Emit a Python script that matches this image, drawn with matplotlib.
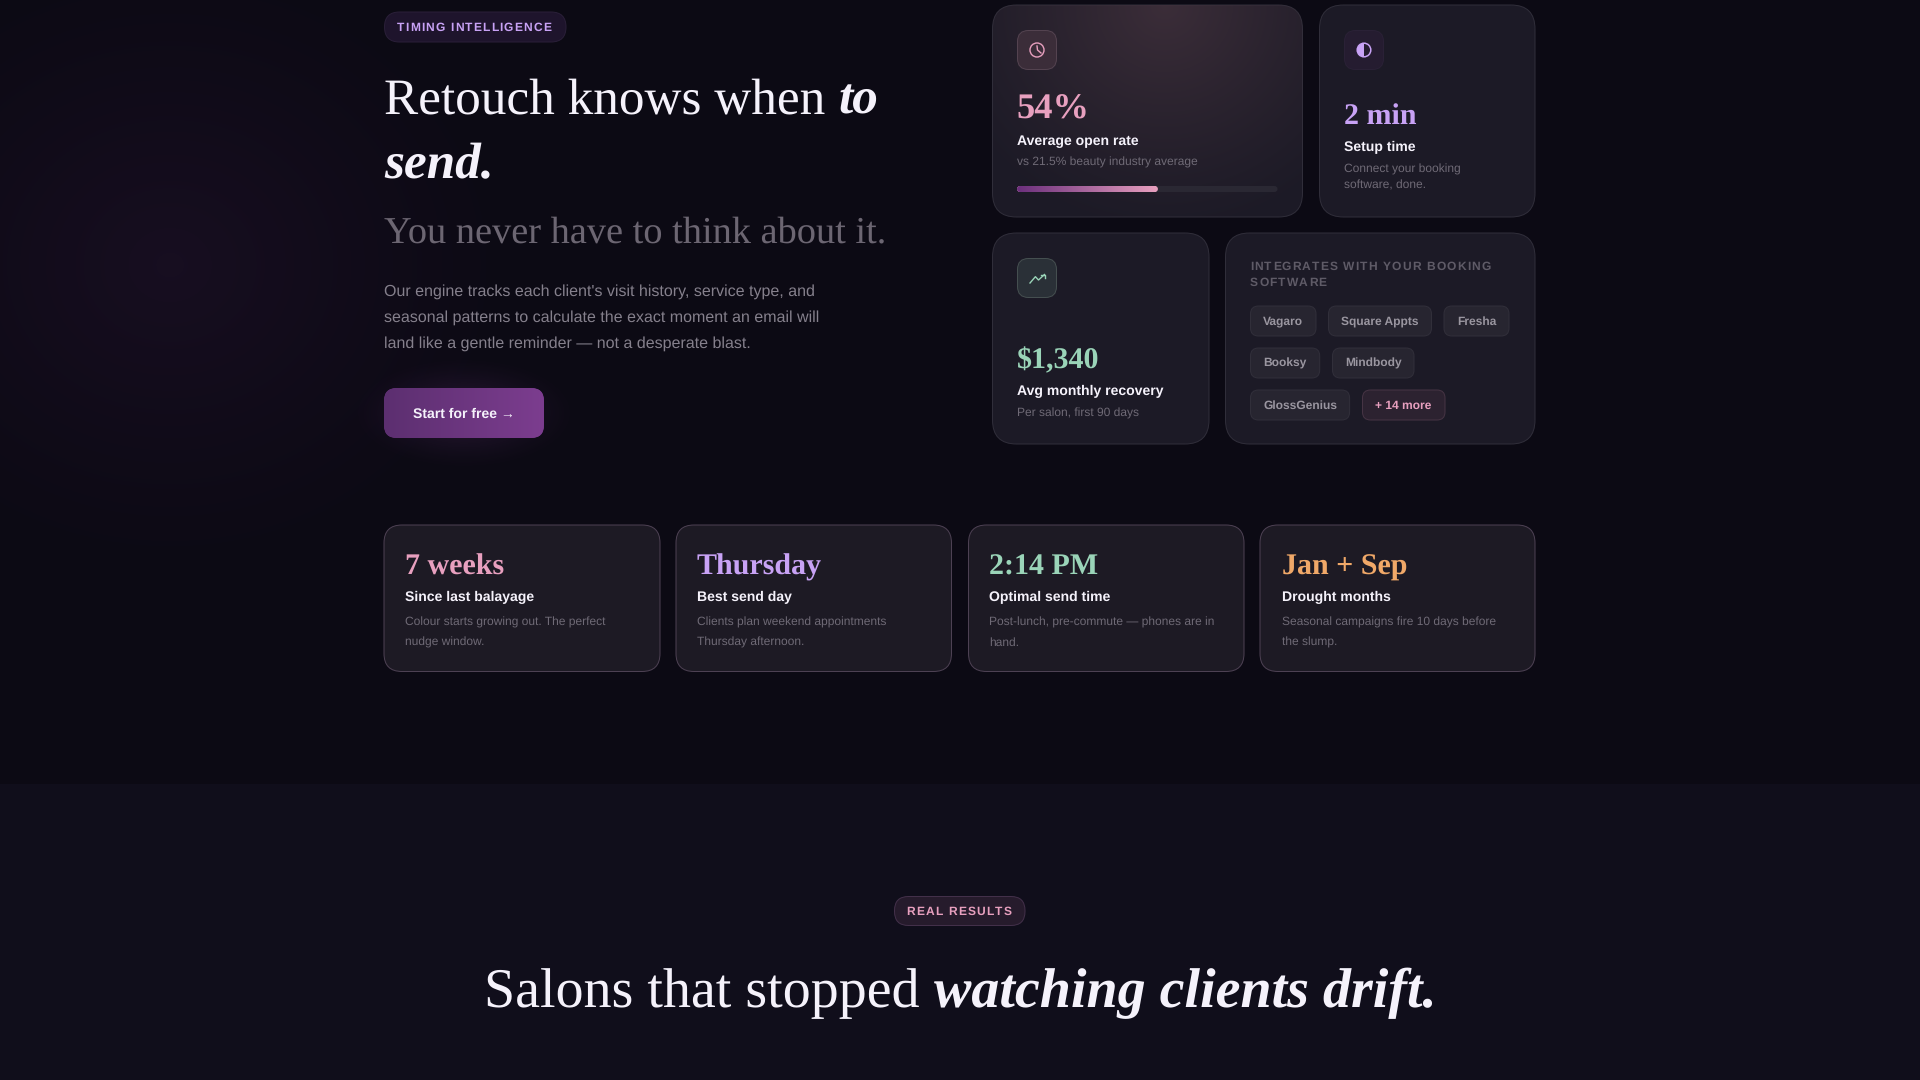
import numpy as np
import matplotlib
matplotlib.use("Agg")
import matplotlib.pyplot as plt
from matplotlib.colors import to_rgb
from matplotlib.font_manager import FontProperties, findfont, get_font
from matplotlib.ft2font import LoadFlags
from matplotlib.patches import Circle, FancyBboxPatch, Wedge

plt.rcParams["text.hinting"] = "no_hinting"

SANS = "Liberation Sans"
SERIF = "Liberation Serif"

PINK = "#e8a0bf"
PURPLE = "#c8a2f5"
GREEN = "#9ad4b8"
ORANGE = "#f0a868"
WHITE = "#f5f2fb"
MUTED = "#6f6a76"

# content
open_rate = 54
open_rate_text = "54%"
integrations = ["Vagaro", "Square Appts", "Fresha", "Booksy", "Mindbody", "GlossGenius"]
more_label = "+ 14 more"
para_lines = [
    "Our engine tracks each client's visit history, service type, and",
    "seasonal patterns to calculate the exact moment an email will",
    "land like a gentle reminder \u2014 not a desperate blast.",
]
strip_values = ["7 weeks", "Thursday", "2:14 PM", "Jan + Sep"]
strip_labels = ["Since last balayage", "Best send day", "Optimal send time", "Drought months"]
strip_desc = [
    ["Colour starts growing out. The perfect", "nudge window."],
    ["Clients plan weekend appointments", "Thursday afternoon."],
    ["Post-lunch, pre-commute \u2014 phones are in", "hand."],
    ["Seasonal campaigns fire 10 days before", "the slump."],
]
strip_colors = [PINK, PURPLE, GREEN, ORANGE]

fig = plt.figure(figsize=(19.2, 10.8), dpi=100, facecolor="#0c0a14")
ax = fig.add_axes([0, 0, 1, 1])
ax.set_xlim(0, 1920)
ax.set_ylim(1080, 0)
ax.axis("off")


def txt(x, y, s, px, color, bold=False, italic=False, family=SANS, ha="left"):
    return ax.text(x, y, s, fontsize=px * 0.72, color=color, family=family, ha=ha, va="baseline",
                   fontweight="bold" if bold else "normal",
                   fontstyle="italic" if italic else "normal", zorder=6)


def tracked(x, y, s, px, color, spacing, bold=True, center=False):
    # letter spaced text, one glyph at a time
    prop = FontProperties(family=SANS, weight="bold" if bold else "normal")
    font = get_font(findfont(prop))
    font.set_size(px * 0.72, 100)
    adv = []
    for c in s:
        g = font.load_char(ord(c), flags=LoadFlags.NO_HINTING)
        adv.append(g.linearHoriAdvance / 65536 + spacing)
    if center:
        x = x - (sum(adv) - spacing) / 2
    for c, a in zip(s, adv):
        if c != " ":
            txt(x, y, c, px, color, bold=bold)
        x += a


def box(x0, y0, x1, y1, r, fc, ec="none", lw=1.0, z=2):
    p = FancyBboxPatch((x0, y0), x1 - x0, y1 - y0, boxstyle=f"round,pad=0,rounding_size={r}",
                       fc=fc, ec=ec, lw=lw * 0.72, zorder=z)
    ax.add_patch(p)
    return p


def glow(cx, cy, rx, ry, color, alpha, extent, clip=None, z=1, power=2.0):
    x0, x1, y0, y1 = extent
    w, h = int(x1 - x0), int(y1 - y0)
    xx, yy = np.meshgrid(np.linspace(x0, x1, w), np.linspace(y0, y1, h))
    d = np.sqrt(((xx - cx) / rx) ** 2 + ((yy - cy) / ry) ** 2)
    a = np.clip(1 - d, 0, 1) ** power * alpha
    img = np.zeros((h, w, 4))
    img[..., :3] = to_rgb(color)
    img[..., 3] = a
    im = ax.imshow(img, extent=(x0, x1, y1, y0), aspect="auto", zorder=z, interpolation="bilinear")
    if clip is not None:
        im.set_clip_path(clip)
    return im


def hgrad(x0, y0, x1, y1, c0, c1, clip, z=3):
    t = np.linspace(0, 1, 256)[None, :, None]
    img = (1 - t) * np.array(to_rgb(c0)) + t * np.array(to_rgb(c1))
    im = ax.imshow(img, extent=(x0, x1, y1, y0), aspect="auto", zorder=z)
    im.set_clip_path(clip)


# page background, lower section is a little lighter
ax.add_patch(plt.Rectangle((0, 784), 1920, 296, fc="#100e1b", ec="none", zorder=0))
glow(170, 265, 360, 320, "#33183f", 0.3, (0, 560, 0, 620), power=1.2)

# left column
box(384.5, 12, 566, 42, 15, "#1e142c", "#2a1f38")
tracked(397, 31, "TIMING INTELLIGENCE", 12, PURPLE, 1.15)

txt(384, 114, "Retouch knows when", 51.2, WHITE, family=SERIF)
txt(838.5, 114, "to", 51.2, WHITE, bold=True, italic=True, family=SERIF)
txt(384, 178.7, "send.", 51.2, WHITE, bold=True, italic=True, family=SERIF)
txt(384, 242, "You never have to think about it.", 38.4, "#6c6672", family=SERIF)
for i, line in enumerate(para_lines):
    txt(384, 296 + 26 * i, line, 16, "#85808c")

glow(464, 413, 120, 60, "#7a3d8e", 0.3, (340, 590, 350, 480), z=1, power=1.5)
btn = box(384, 388, 544, 438, 13, "#6b3580")
hgrad(384, 388, 544, 438, "#5c2f70", "#7c3d8f", btn)
txt(413, 418, "Start for free \u2192", 14, WHITE, bold=True)

# top right cards
card_fc = "#1c1a26"
card_ec = "#302e3a"

a = box(992.5, 5, 1302.5, 217, 24, card_fc, card_ec)
glow(1165, 5, 240, 235, "#46343f", 0.75, (993, 1303, 5, 217), clip=a, z=2.5, power=1.2)
box(1017.5, 30.5, 1056.5, 69.5, 11, "#3b2d39", "#544350", z=3)
ax.add_patch(Circle((1037, 50), 7, fc="none", ec=PINK, lw=1.0, zorder=4))
ax.plot([1037, 1037.5, 1041], [46, 50, 53], color=PINK, lw=1.0, zorder=4)
txt(1017, 119, open_rate_text, 36.5, PINK, bold=True, family=SERIF)
txt(1017, 145, "Average open rate", 14, WHITE, bold=True)
txt(1017, 166, "vs 21.5% beauty industry average", 12, MUTED)
track = box(1017, 186, 1277.5, 192, 3, "#2a2833", z=3)
fill_w = 260.5 * open_rate / 100
fill = box(1017, 186, 1017 + fill_w, 192, 3, PINK, z=3.5)
hgrad(1017, 186, 1017 + fill_w, 192, "#6b2f7c", PINK, fill, z=3.6)

box(1319.5, 5, 1535, 217, 24, card_fc, card_ec)
box(1344.5, 30.5, 1383.5, 69.5, 11, "#251c30", "#2a2136", z=3)
ax.add_patch(Circle((1364, 50), 6.8, fc="none", ec=PURPLE, lw=1.1, zorder=4))
ax.add_patch(Wedge((1364, 50), 6.8, 90, 270, fc=PURPLE, ec="none", zorder=4))
txt(1344, 124, "2 min", 30, PURPLE, bold=True, family=SERIF)
txt(1344, 151, "Setup time", 14, WHITE, bold=True)
txt(1344, 173, "Connect your booking", 12, MUTED)
txt(1344, 188.7, "software, done.", 12, MUTED)

box(992.5, 233, 1209, 444, 24, card_fc, card_ec)
box(1017.5, 258.5, 1056.5, 297.5, 11, "#2a3037", "#454f50", z=3)
ax.plot([1030, 1035.4, 1038.5, 1044.5], [283, 276.7, 280, 274.5], color=GREEN, lw=1.0, zorder=4)
ax.plot([1041, 1044.5, 1044.5], [274.5, 274.5, 278], color=GREEN, lw=1.0, zorder=4)
txt(1017, 368, "$1,340", 30, GREEN, bold=True, family=SERIF)
txt(1017, 395, "Avg monthly recovery", 14, WHITE, bold=True)
txt(1017, 417, "Per salon, first 90 days", 12, MUTED)

box(1225.5, 233, 1535, 444, 24, card_fc, card_ec)
tracked(1250, 270, "INTEGRATES WITH YOUR BOOKING", 12, "#5f5b67", 1.13)
tracked(1250, 286, "SOFTWARE", 12, "#5f5b67", 1.13)

chip_x = [(1250.5, 1316), (1328.5, 1431.5), (1444, 1509), (1250.5, 1319.7), (1332.5, 1414), (1250.5, 1349.6)]
chip_y = [306, 306, 306, 348, 348, 390]
for name, (x0, x1), y0 in zip(integrations, chip_x, chip_y):
    box(x0, y0, x1, y0 + 30, 8, "#272530", "#312f3a", z=3)
    txt((x0 + x1) / 2, y0 + 18.7, name, 12, "#9a96a0", bold=True, ha="center")
box(1362.5, 390, 1445, 420, 8, "#2c2230", "#463444", z=3)
txt(1403.5, 408.7, more_label, 12, PINK, bold=True, ha="center")

# timing strip
strip_x = [(384, 660), (676, 951.5), (968.5, 1244), (1260, 1535)]
text_x = [405, 697, 989, 1282]
for (x0, x1), tx, v, lab, desc, col in zip(strip_x, text_x, strip_values, strip_labels, strip_desc, strip_colors):
    box(x0, 525, x1, 671.5, 18, "#1d1a24", "#4d4153")
    txt(tx, 575, v, 30, col, bold=True, family=SERIF)
    txt(tx, 601, lab, 14, WHITE, bold=True)
    txt(tx, 626, desc[0], 12, MUTED)
    txt(tx, 646, desc[1], 12, MUTED)

# results header
box(894.5, 896.5, 1025, 925.5, 14, "#261b2c", "#43304a")
tracked(959, 915, "REAL RESULTS", 12, PINK, 1.2, center=True)
txt(484, 1007, "Salons that stopped", 56, WHITE, family=SERIF)
txt(934, 1007, "watching clients drift.", 56, WHITE, bold=True, italic=True, family=SERIF)

ax.set_xlim(0, 1920)
ax.set_ylim(1080, 0)
fig.savefig("out.png", dpi=100, facecolor=fig.get_facecolor())
